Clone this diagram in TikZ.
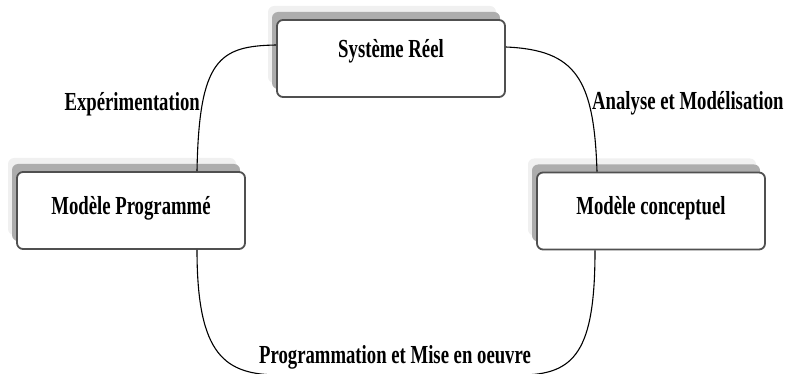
\documentclass[tikz,border=0pt]{standalone}
\usepackage{fontspec}
\setmainfont{Liberation Serif}
\usepackage{graphicx}
\usetikzlibrary{shadows}
\definecolor{boxedge}{HTML}{505050}
\newcommand{\lbltext}[1]{\scalebox{0.72}[1]{\fontsize{26}{30}\selectfont\bfseries #1}}

\begin{document}
\begin{tikzpicture}[x=1pt,y=-1pt,
  box/.style={draw=boxedge, line width=1.8pt, rounded corners=6pt, fill=white,
    minimum width=228pt, minimum height=77pt, inner sep=0pt,
    general shadow={fill=black!6, shadow xshift=-9pt, shadow yshift=14pt},
    general shadow={fill=black!32, shadow xshift=-5pt, shadow yshift=8pt}},
  lbl/.style={inner sep=0pt, anchor=base, text=black},
  conn/.style={draw=black, line width=1.1pt}
]
\useasboundingbox (0,0) rectangle (794,374);
\clip (0,0) rectangle (794,374);

% the three stages of the modelling cycle
\node[box] (sys)  at (391,58.5) {};
\node[box] (prog) at (131,210.5) {};
\node[box] (conc) at (651,211) {};

\node[lbl] (sysT)  at (391,58)  {\lbltext{Système Réel}};
\node[lbl] (progT) at (131,214) {\lbltext{Modèle Programmé}};
\node[lbl] (concT) at (651,214) {\lbltext{Modèle conceptuel}};

% connectors between the stages
\draw[conn] ([yshift=13.5pt]sys.west) .. controls +(-57,1) and +(2,-112) .. ([xshift=66pt]prog.north);
\draw[conn] ([yshift=11.5pt]sys.east) .. controls +(70,3) and +(-3,-93) .. ([xshift=-54pt]conc.north);
\coordinate (bl) at (280,375);
\coordinate (br) at (520,375);
\draw[conn] ([xshift=66pt]prog.south) .. controls +(0,106) and +(-55,0) .. (bl)
  -- (br) .. controls +(55,0) and +(0,101) .. ([xshift=-56pt]conc.south);

% transition labels
\node[lbl, anchor=base east] (expT) at (200,111) {\lbltext{Expérimentation}};
\node[lbl, anchor=base west] (anaT) at (592,110) {\lbltext{Analyse et Modélisation}};
\node[lbl] (impT) at (395,363) {\lbltext{Programmation et Mise en oeuvre}};
\end{tikzpicture}
\end{document}
